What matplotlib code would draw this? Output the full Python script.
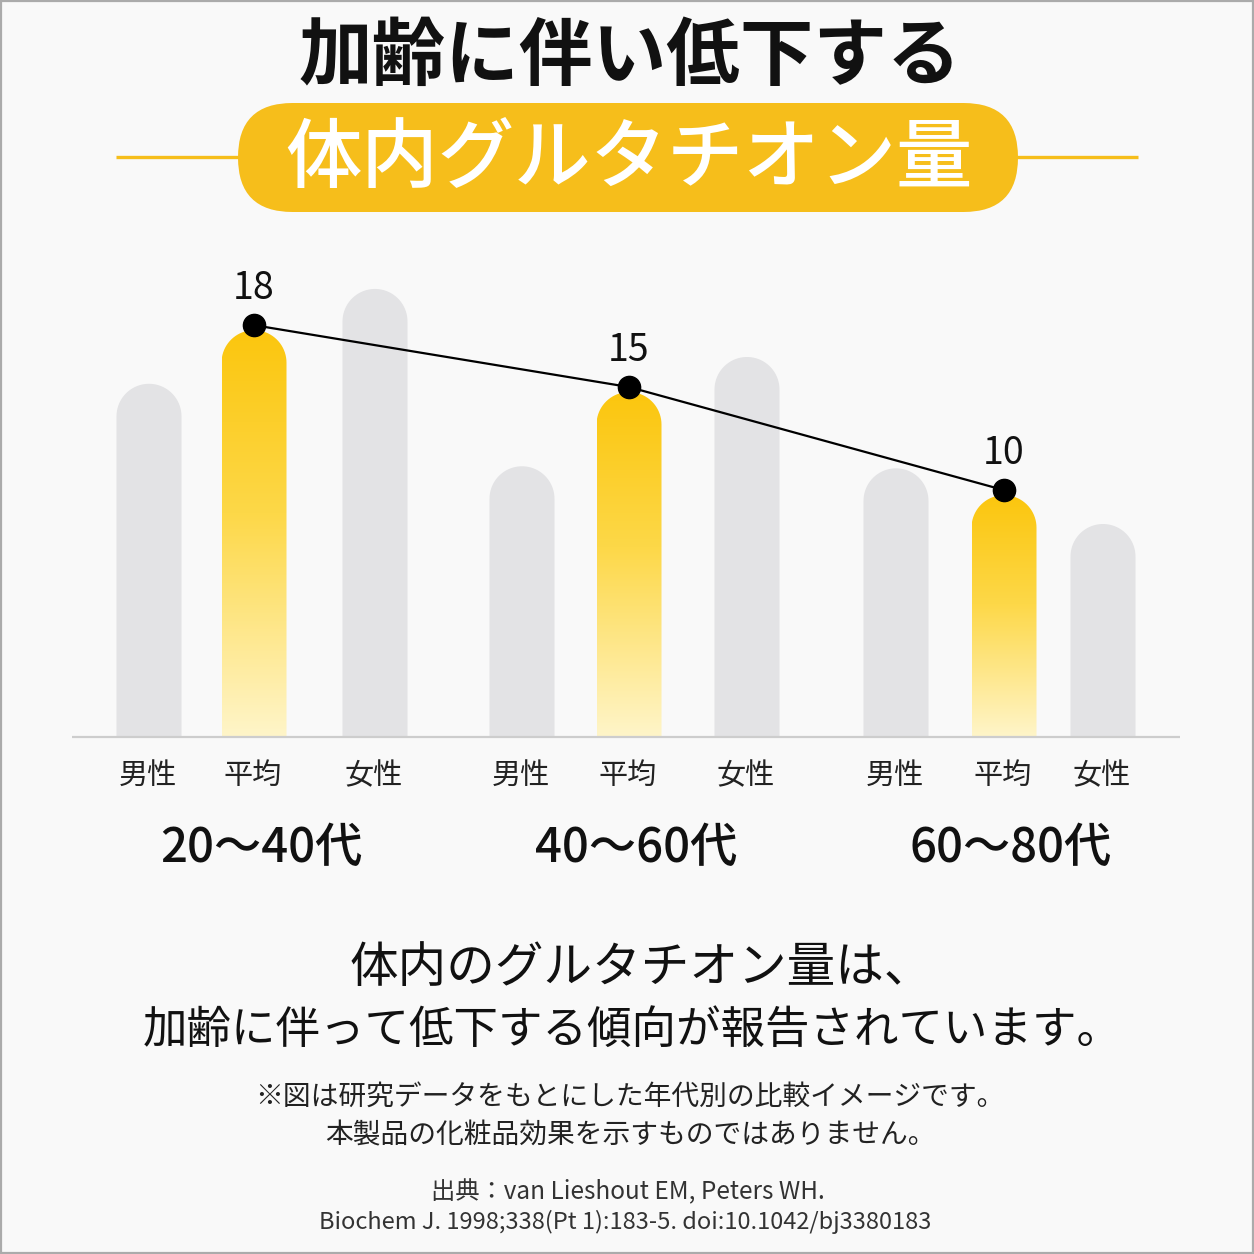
import matplotlib
matplotlib.use("Agg")
import matplotlib.pyplot as plt
import numpy as np
from matplotlib.patches import FancyBboxPatch, PathPatch, Rectangle
from matplotlib.path import Path
from matplotlib.colors import LinearSegmentedColormap
from matplotlib.transforms import ScaledTranslation

plt.rcParams['font.family'] = ['Noto Sans CJK JP', 'DejaVu Sans']

# データ
groups = ['20～40代', '40～60代', '60～80代']
categories = ['男性', '平均', '女性']
male = [15.4, 11.4, 11.3]
average = [18, 15, 10]
female = [20.0, 16.7, 8.6]

title_top = '加齢に伴い低下する'
title_pill = '体内グルタチオン量'
body_lines = ['体内のグルタチオン量は、', '加齢に伴って低下する傾向が報告されています。']
note_lines = ['※図は研究データをもとにした年代別の比較イメージです。',
              '本製品の化粧品効果を示すものではありません。']
source_lines = ['出典：van Lieshout EM, Peters WH.',
                'Biochem J. 1998;338(Pt 1):183-5. doi:10.1042/bj3380183']

# 色
YELLOW = '#F6BE1B'
GREY_BAR = '#E3E3E5'
BG = '#F9F9F9'
yellow_cmap = LinearSegmentedColormap.from_list(
    'yel', [(0, '#FFF5C9'), (0.55, '#FDD848'), (1, '#FBC60E')])

W = 1254
BASE = -1.73          # 軸の下端（ベースライン）
BASE_PX = 737
TOP_PX = 230
PX_PER_UNIT = 20.62
YTOP = BASE + (BASE_PX - TOP_PX) / PX_PER_UNIT
BAR_W = 65

fig = plt.figure(figsize=(12.54, 12.54), dpi=100)
fig.patch.set_facecolor(BG)

bg = fig.add_axes([0, 0, 1, 1])
bg.set_xlim(0, W)
bg.set_ylim(W, 0)
bg.axis('off')
bg.add_patch(Rectangle((1, 1), W - 2, W - 2, fill=False, ec='#ABABAB', lw=1.6))

ax = fig.add_axes([0, (W - BASE_PX) / W, 1, (BASE_PX - TOP_PX) / W])
ax.set_xlim(0, W)
ax.set_ylim(BASE, YTOP)
ax.axis('off')

# 位置（レイアウト）
group_x = 254 + 375 * np.arange(len(groups))
male_off = [-105, -107, -108]
female_off = [121, 118, 99]


def rounded_bar(xc, top):
    r = BAR_W / 2
    ry = r / PX_PER_UNIT
    t = np.linspace(np.pi, 0, 40)
    xs = np.concatenate([[xc - r], xc + r * np.cos(t), [xc + r]])
    ys = np.concatenate([[BASE], top - ry + ry * np.sin(t), [BASE]])
    verts = np.column_stack([xs, ys])
    verts = np.vstack([verts, verts[:1]])
    codes = [Path.MOVETO] + [Path.LINETO] * (len(verts) - 2) + [Path.CLOSEPOLY]
    return Path(verts, codes)


grad = np.linspace(0, 1, 256).reshape(-1, 1)
for i in range(len(groups)):
    vals = [male[i], average[i], female[i]]
    xs = [group_x[i] + male_off[i], group_x[i], group_x[i] + female_off[i]]
    for j, v in enumerate(vals):
        xc = xs[j]
        p = rounded_bar(xc, v)
        if j == 1:
            patch = PathPatch(p, fc='none', ec='none')
            ax.add_patch(patch)
            im = ax.imshow(grad, cmap=yellow_cmap, origin='lower', aspect='auto',
                           extent=[xc - BAR_W / 2, xc + BAR_W / 2, BASE, v], zorder=2)
            im.set_clip_path(patch)
        else:
            ax.add_patch(PathPatch(p, fc=GREY_BAR, ec='none', zorder=2))
        bg.text(xc - 1, 776, categories[j], ha='center', va='center',
                fontsize=21, color='#222222')
    bg.text(group_x[i] + 7, 848, groups[i], ha='center', va='center',
            fontsize=34, fontweight='medium', color='#111111')

ax.set_xlim(0, W)
ax.set_ylim(BASE, YTOP)

# ベースライン
ax.hlines(BASE, 72, 1180, color='#CDCDCD', lw=1.6, zorder=3, clip_on=False)

# 平均の折れ線
shift = ax.transData + ScaledTranslation(0, 5 / 100, fig.dpi_scale_trans)
ax.plot(group_x, average, color='black', lw=1.6, marker='o', markersize=16,
        transform=shift, zorder=5, clip_on=False)
for x, v in zip(group_x, average):
    ax.annotate(str(v), (x, v), xytext=(0, 42), textcoords='offset pixels',
                ha='center', va='center', fontsize=27, color='#111111')

# タイトル
bg.text(630, 58, title_top, ha='center', va='center', fontsize=53,
        fontweight='bold', color='#111111')
bg.hlines(157, 116, 240, color=YELLOW, lw=2.4)
bg.hlines(157, 1016, 1138, color=YELLOW, lw=2.4)
bg.add_patch(FancyBboxPatch((238, 103), 780, 109,
                            boxstyle='round,pad=0,rounding_size=54.5',
                            fc=YELLOW, ec='none'))
bg.text(629, 160, title_pill, ha='center', va='center', fontsize=55,
        fontweight='medium', color='white')

# 本文
bg.text(641, 968, body_lines[0], ha='center', va='center', fontsize=35,
        color='#111111')
bg.text(632, 1030, body_lines[1], ha='center', va='center', fontsize=32,
        color='#111111')
bg.text(630, 1097, note_lines[0], ha='center', va='center', fontsize=20,
        color='#222222')
bg.text(630, 1135, note_lines[1], ha='center', va='center', fontsize=20,
        color='#222222')
bg.text(628, 1192, source_lines[0], ha='center', va='center', fontsize=17.5,
        color='#333333')
bg.text(625, 1222, source_lines[1], ha='center', va='center', fontsize=17,
        color='#333333')

fig.savefig('out.png', dpi=100, facecolor=BG)
